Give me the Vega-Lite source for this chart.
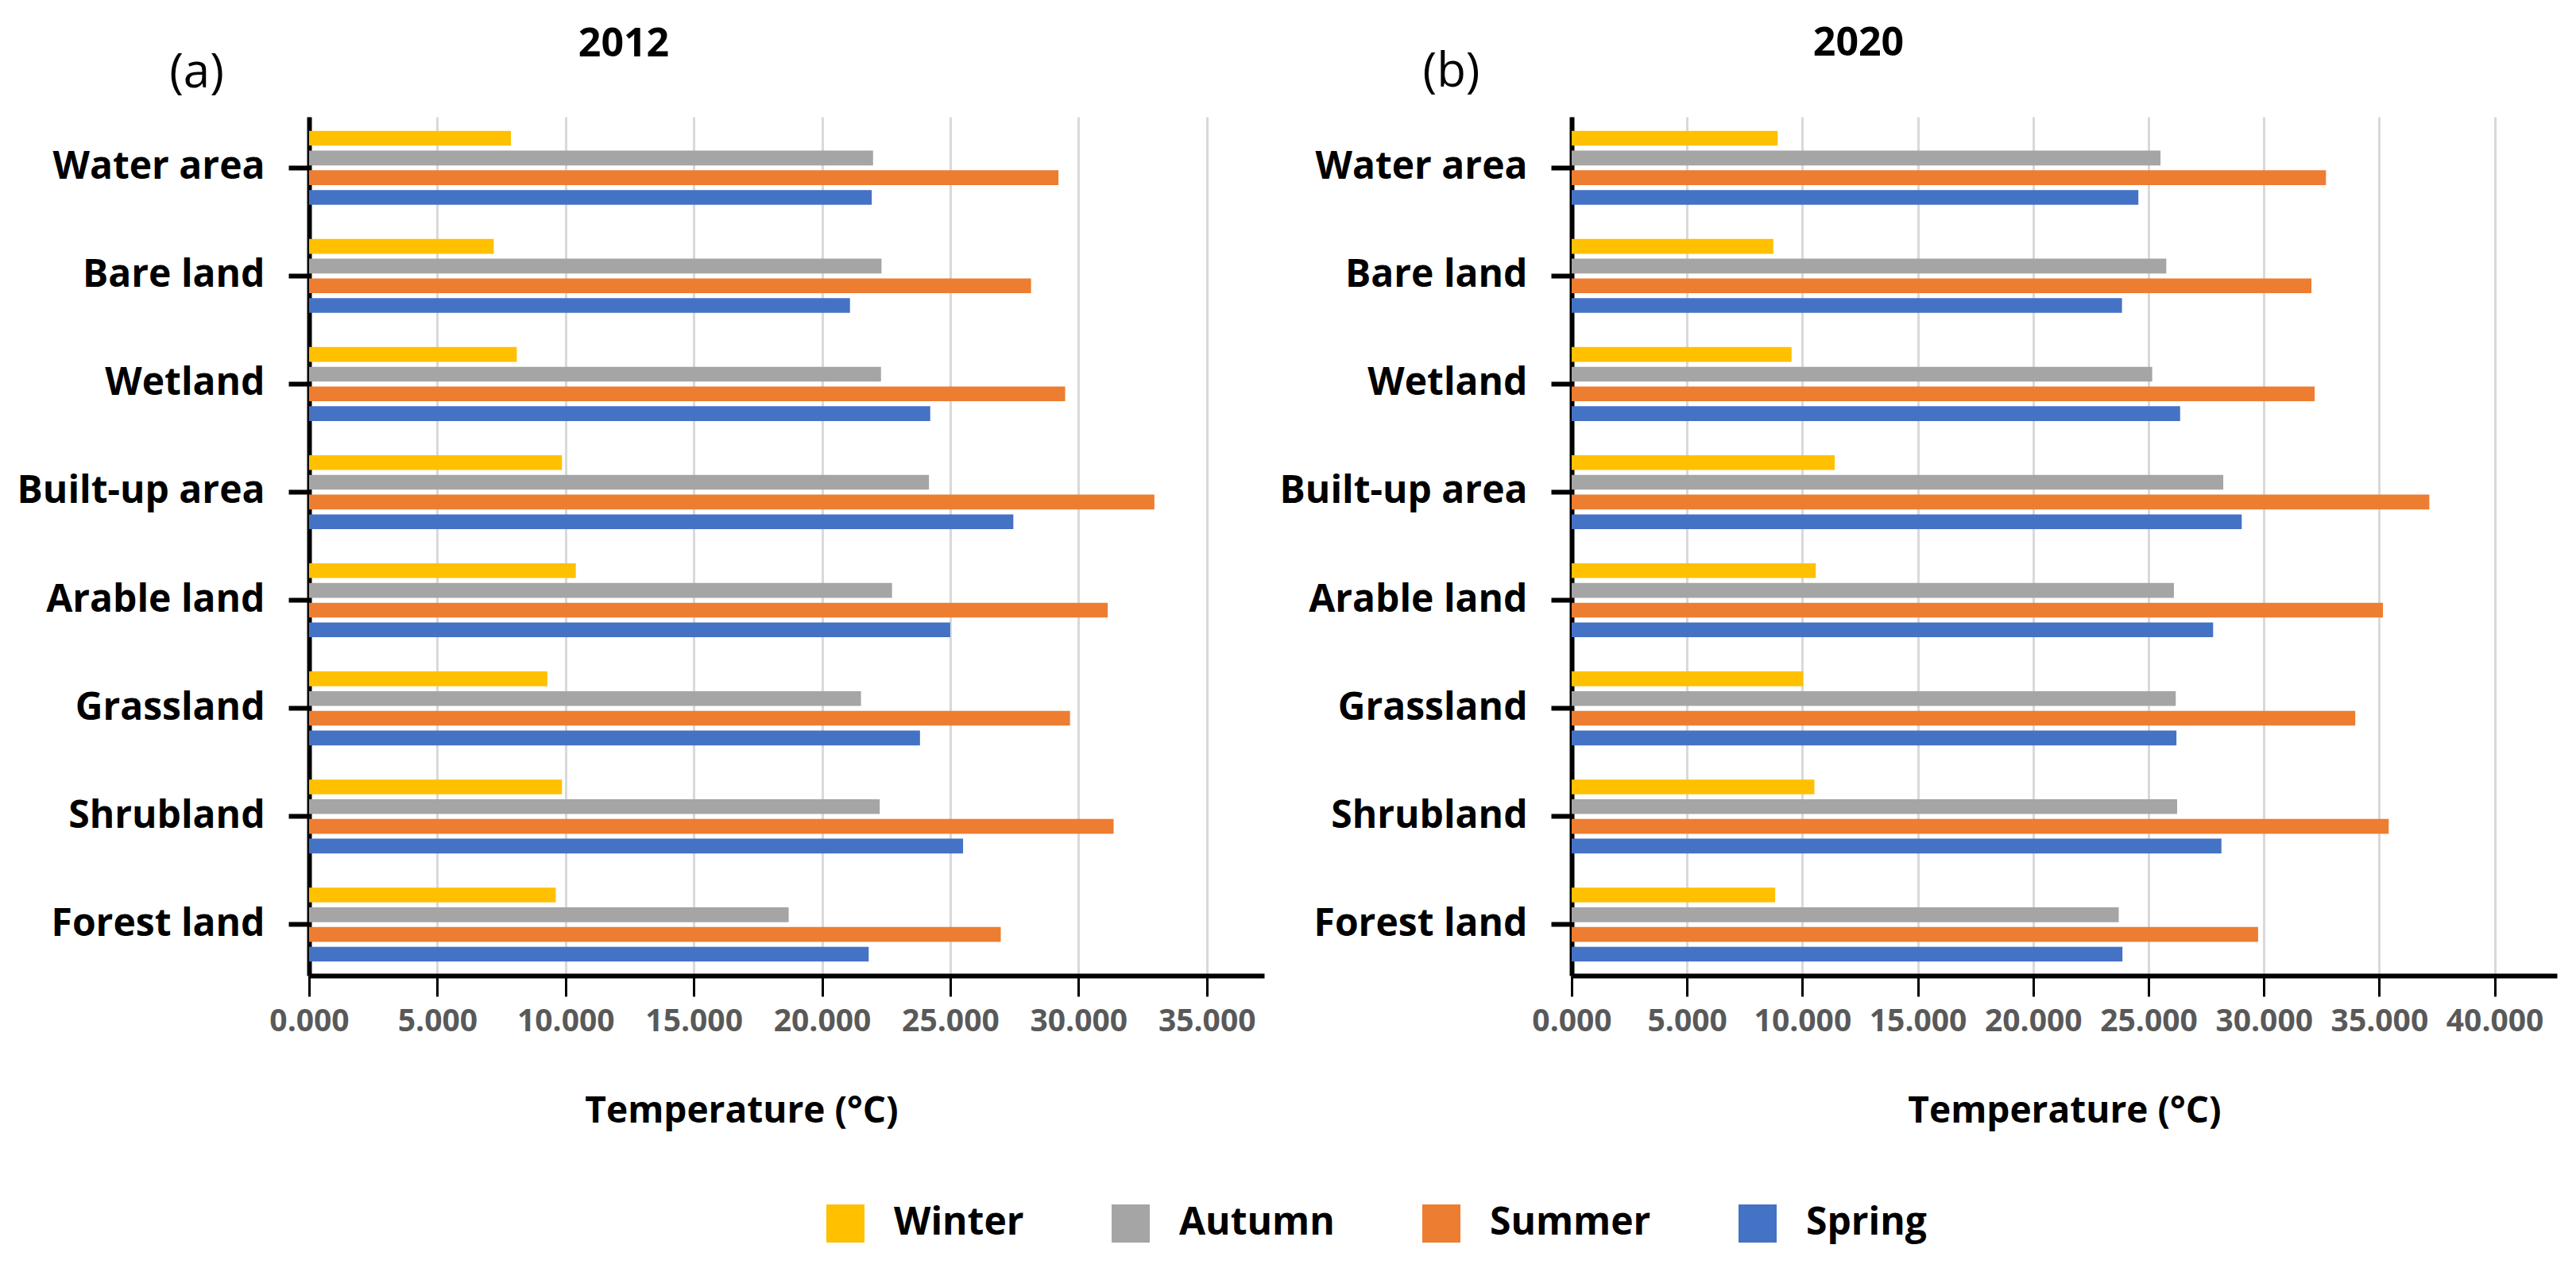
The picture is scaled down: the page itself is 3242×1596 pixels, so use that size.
{
  "$schema": "https://vega.github.io/schema/vega-lite/v6.json",
  "background": "white",
  "padding": {"left": 20, "top": 30, "right": 10, "bottom": 10},
  "data": {"values": [
    {"year": "2012", "landuse": "Water area", "season": "Winter", "temp": 7.87},
    {"year": "2012", "landuse": "Water area", "season": "Autumn", "temp": 21.99},
    {"year": "2012", "landuse": "Water area", "season": "Summer", "temp": 29.22},
    {"year": "2012", "landuse": "Water area", "season": "Spring", "temp": 21.94},
    {"year": "2012", "landuse": "Bare land", "season": "Winter", "temp": 7.20},
    {"year": "2012", "landuse": "Bare land", "season": "Autumn", "temp": 22.32},
    {"year": "2012", "landuse": "Bare land", "season": "Summer", "temp": 28.15},
    {"year": "2012", "landuse": "Bare land", "season": "Spring", "temp": 21.09},
    {"year": "2012", "landuse": "Wetland", "season": "Winter", "temp": 8.10},
    {"year": "2012", "landuse": "Wetland", "season": "Autumn", "temp": 22.30},
    {"year": "2012", "landuse": "Wetland", "season": "Summer", "temp": 29.48},
    {"year": "2012", "landuse": "Wetland", "season": "Spring", "temp": 24.22},
    {"year": "2012", "landuse": "Built-up area", "season": "Winter", "temp": 9.86},
    {"year": "2012", "landuse": "Built-up area", "season": "Autumn", "temp": 24.17},
    {"year": "2012", "landuse": "Built-up area", "season": "Summer", "temp": 32.96},
    {"year": "2012", "landuse": "Built-up area", "season": "Spring", "temp": 27.46},
    {"year": "2012", "landuse": "Arable land", "season": "Winter", "temp": 10.40},
    {"year": "2012", "landuse": "Arable land", "season": "Autumn", "temp": 22.73},
    {"year": "2012", "landuse": "Arable land", "season": "Summer", "temp": 31.14},
    {"year": "2012", "landuse": "Arable land", "season": "Spring", "temp": 25.00},
    {"year": "2012", "landuse": "Grassland", "season": "Winter", "temp": 9.29},
    {"year": "2012", "landuse": "Grassland", "season": "Autumn", "temp": 21.52},
    {"year": "2012", "landuse": "Grassland", "season": "Summer", "temp": 29.67},
    {"year": "2012", "landuse": "Grassland", "season": "Spring", "temp": 23.82},
    {"year": "2012", "landuse": "Shrubland", "season": "Winter", "temp": 9.86},
    {"year": "2012", "landuse": "Shrubland", "season": "Autumn", "temp": 22.25},
    {"year": "2012", "landuse": "Shrubland", "season": "Summer", "temp": 31.37},
    {"year": "2012", "landuse": "Shrubland", "season": "Spring", "temp": 25.50},
    {"year": "2012", "landuse": "Forest land", "season": "Winter", "temp": 9.62},
    {"year": "2012", "landuse": "Forest land", "season": "Autumn", "temp": 18.70},
    {"year": "2012", "landuse": "Forest land", "season": "Summer", "temp": 26.97},
    {"year": "2012", "landuse": "Forest land", "season": "Spring", "temp": 21.82},
    {"year": "2020", "landuse": "Water area", "season": "Winter", "temp": 8.93},
    {"year": "2020", "landuse": "Water area", "season": "Autumn", "temp": 25.52},
    {"year": "2020", "landuse": "Water area", "season": "Summer", "temp": 32.69},
    {"year": "2020", "landuse": "Water area", "season": "Spring", "temp": 24.56},
    {"year": "2020", "landuse": "Bare land", "season": "Winter", "temp": 8.74},
    {"year": "2020", "landuse": "Bare land", "season": "Autumn", "temp": 25.77},
    {"year": "2020", "landuse": "Bare land", "season": "Summer", "temp": 32.06},
    {"year": "2020", "landuse": "Bare land", "season": "Spring", "temp": 23.85},
    {"year": "2020", "landuse": "Wetland", "season": "Winter", "temp": 9.53},
    {"year": "2020", "landuse": "Wetland", "season": "Autumn", "temp": 25.16},
    {"year": "2020", "landuse": "Wetland", "season": "Summer", "temp": 32.20},
    {"year": "2020", "landuse": "Wetland", "season": "Spring", "temp": 26.37},
    {"year": "2020", "landuse": "Built-up area", "season": "Winter", "temp": 11.40},
    {"year": "2020", "landuse": "Built-up area", "season": "Autumn", "temp": 28.24},
    {"year": "2020", "landuse": "Built-up area", "season": "Summer", "temp": 37.17},
    {"year": "2020", "landuse": "Built-up area", "season": "Spring", "temp": 29.04},
    {"year": "2020", "landuse": "Arable land", "season": "Winter", "temp": 10.58},
    {"year": "2020", "landuse": "Arable land", "season": "Autumn", "temp": 26.10},
    {"year": "2020", "landuse": "Arable land", "season": "Summer", "temp": 35.16},
    {"year": "2020", "landuse": "Arable land", "season": "Spring", "temp": 27.80},
    {"year": "2020", "landuse": "Grassland", "season": "Winter", "temp": 10.03},
    {"year": "2020", "landuse": "Grassland", "season": "Autumn", "temp": 26.18},
    {"year": "2020", "landuse": "Grassland", "season": "Summer", "temp": 33.96},
    {"year": "2020", "landuse": "Grassland", "season": "Spring", "temp": 26.21},
    {"year": "2020", "landuse": "Shrubland", "season": "Winter", "temp": 10.52},
    {"year": "2020", "landuse": "Shrubland", "season": "Autumn", "temp": 26.24},
    {"year": "2020", "landuse": "Shrubland", "season": "Summer", "temp": 35.41},
    {"year": "2020", "landuse": "Shrubland", "season": "Spring", "temp": 28.16},
    {"year": "2020", "landuse": "Forest land", "season": "Winter", "temp": 8.82},
    {"year": "2020", "landuse": "Forest land", "season": "Autumn", "temp": 23.71},
    {"year": "2020", "landuse": "Forest land", "season": "Summer", "temp": 29.75},
    {"year": "2020", "landuse": "Forest land", "season": "Spring", "temp": 23.87}
  ]},
  "spacing": 18,
  "hconcat": [
    {
      "width": 1202,
      "height": 1081,
      "transform": [{"filter": "datum.year == '2012'"}],
      "title": {"text": "2012", "dx": -205, "offset": -20},
      "mark": {"type": "bar"},
      "encoding": {
        "y": {
          "field": "landuse", "type": "nominal",
          "sort": ["Water area", "Bare land", "Wetland", "Built-up area", "Arable land", "Grassland", "Shrubland", "Forest land"],
          "scale": {"paddingInner": 0.316, "paddingOuter": 0.13},
          "axis": {
            "title": "(a)", "titleAngle": 0, "titleX": -142, "titleY": -56, "titleAlign": "center", "titleBaseline": "middle",
            "titleFontWeight": "normal", "titleFontSize": 60, "titleColor": "black",
            "minExtent": 369, "maxExtent": 369,
            "labelFontSize": 48, "labelFontWeight": "bold", "labelColor": "black", "labelPadding": 30, "labelLimit": 500,
            "tickSize": 26, "tickWidth": 6, "tickColor": "black", "grid": false,
            "domainWidth": 6, "domainColor": "black"
          }
        },
        "yOffset": {
          "field": "season", "type": "nominal",
          "sort": ["Winter", "Autumn", "Summer", "Spring"],
          "scale": {"paddingInner": 0.25, "paddingOuter": 0}
        },
        "x": {
          "field": "temp", "type": "quantitative",
          "scale": {"domain": [0, 37.24], "nice": false, "zero": true},
          "axis": {
            "values": [0, 5, 10, 15, 20, 25, 30, 35], "format": ".3f",
            "title": "Temperature (°C)", "titleX": 544, "titleY": 148, "titleBaseline": "top", "titleAlign": "center",
            "titleFontSize": 46, "titleFontWeight": "bold", "titleColor": "black",
            "labelFontSize": 39, "labelFontWeight": "bold", "labelColor": "#595959", "labelPadding": 12, "labelFlush": false,
            "tickSize": 26, "tickWidth": 3, "tickColor": "black",
            "grid": true, "gridColor": "#D9D9D9", "gridWidth": 3,
            "domainWidth": 6, "domainColor": "black"
          }
        },
        "color": {
          "field": "season", "type": "nominal",
          "scale": {"domain": ["Winter", "Autumn", "Summer", "Spring"], "range": ["#FFC000", "#A5A5A5", "#ED7D31", "#4472C4"]},
          "legend": {
            "orient": "none", "direction": "horizontal", "legendX": 651, "legendY": 1369,
            "title": null, "symbolType": "square", "symbolSize": 2304, "symbolStrokeWidth": 0, "symbolOpacity": 1,
            "labelFontSize": 48, "labelFontWeight": "bold", "labelColor": "black", "labelOffset": 37,
            "columnPadding": 110, "labelLimit": 400
          }
        }
      }
    },
    {
      "width": 1240,
      "height": 1081,
      "transform": [{"filter": "datum.year == '2020'"}],
      "title": {"text": "2020", "dx": -259, "offset": -20},
      "mark": {"type": "bar"},
      "encoding": {
        "y": {
          "field": "landuse", "type": "nominal",
          "sort": ["Water area", "Bare land", "Wetland", "Built-up area", "Arable land", "Grassland", "Shrubland", "Forest land"],
          "scale": {"paddingInner": 0.316, "paddingOuter": 0.13},
          "axis": {
            "title": "(b)", "titleAngle": 0, "titleX": -152, "titleY": -57, "titleAlign": "center", "titleBaseline": "middle",
            "titleFontWeight": "normal", "titleFontSize": 60, "titleColor": "black",
            "minExtent": 369, "maxExtent": 369,
            "labelFontSize": 48, "labelFontWeight": "bold", "labelColor": "black", "labelPadding": 30, "labelLimit": 500,
            "tickSize": 26, "tickWidth": 6, "tickColor": "black", "grid": false,
            "domainWidth": 6, "domainColor": "black"
          }
        },
        "yOffset": {
          "field": "season", "type": "nominal",
          "sort": ["Winter", "Autumn", "Summer", "Spring"],
          "scale": {"paddingInner": 0.25, "paddingOuter": 0}
        },
        "x": {
          "field": "temp", "type": "quantitative",
          "scale": {"domain": [0, 42.7], "nice": false, "zero": true},
          "axis": {
            "values": [0, 5, 10, 15, 20, 25, 30, 35, 40], "format": ".3f",
            "title": "Temperature (°C)", "titleY": 148, "titleBaseline": "top", "titleAlign": "center",
            "titleFontSize": 46, "titleFontWeight": "bold", "titleColor": "black",
            "labelFontSize": 39, "labelFontWeight": "bold", "labelColor": "#595959", "labelPadding": 12, "labelFlush": false,
            "tickSize": 26, "tickWidth": 3, "tickColor": "black",
            "grid": true, "gridColor": "#D9D9D9", "gridWidth": 3,
            "domainWidth": 6, "domainColor": "black"
          }
        },
        "color": {
          "field": "season", "type": "nominal",
          "scale": {"domain": ["Winter", "Autumn", "Summer", "Spring"], "range": ["#FFC000", "#A5A5A5", "#ED7D31", "#4472C4"]}
        }
      }
    }
  ],
  "config": {
    "view": {"stroke": null},
    "font": "Open Sans",
    "title": {"font": "Open Sans", "fontSize": 50, "fontWeight": "bold", "color": "black", "anchor": "middle", "frame": "group"},
    "axis": {"labelFont": "Open Sans", "titleFont": "Open Sans"},
    "legend": {"labelFont": "Open Sans"}
  }
}
